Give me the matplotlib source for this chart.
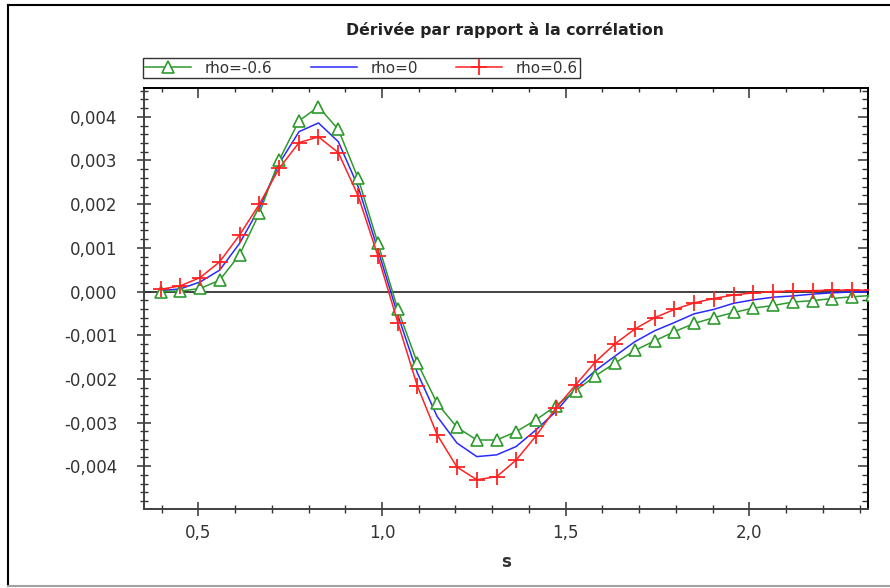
import numpy as np
import matplotlib
matplotlib.use('Agg')
import matplotlib.pyplot as plt
from matplotlib.lines import Line2D
from matplotlib.ticker import MultipleLocator, FuncFormatter

# s grid
s_values = [0.397, 0.451, 0.505, 0.558, 0.612, 0.666, 0.720, 0.774, 0.827, 0.881,
            0.935, 0.989, 1.043, 1.096, 1.150, 1.204, 1.258, 1.312, 1.365, 1.419,
            1.473, 1.527, 1.581, 1.634, 1.688, 1.742, 1.796, 1.850, 1.903, 1.957,
            2.011, 2.065, 2.119, 2.172, 2.226, 2.280, 2.334]

# derivative values, in thousandths
rho_neg = [0.00, 0.01, 0.07, 0.26, 0.84, 1.79, 3.01, 3.91, 4.23, 3.71,
           2.59, 1.10, -0.41, -1.63, -2.56, -3.11, -3.40, -3.40, -3.21, -2.94,
           -2.62, -2.27, -1.93, -1.64, -1.35, -1.13, -0.92, -0.73, -0.60, -0.48,
           -0.38, -0.32, -0.24, -0.21, -0.16, -0.12, -0.09]
rho_zero = [0.02, 0.06, 0.22, 0.49, 1.10, 1.91, 2.93, 3.66, 3.86, 3.43,
            2.40, 0.95, -0.54, -1.86, -2.86, -3.47, -3.78, -3.74, -3.55, -3.17,
            -2.75, -2.22, -1.81, -1.48, -1.15, -0.90, -0.71, -0.51, -0.41, -0.27,
            -0.19, -0.13, -0.10, -0.06, -0.03, -0.01, -0.01]
rho_pos = [0.05, 0.13, 0.32, 0.68, 1.29, 2.00, 2.82, 3.41, 3.54, 3.18,
           2.19, 0.81, -0.71, -2.16, -3.28, -4.02, -4.31, -4.24, -3.86, -3.31,
           -2.67, -2.14, -1.61, -1.20, -0.86, -0.60, -0.41, -0.26, -0.16, -0.08,
           -0.03, 0.00, 0.01, 0.02, 0.03, 0.03, 0.03]

x_ticks = [0.5, 1.0, 1.5, 2.0]
y_ticks = [-0.004, -0.003, -0.002, -0.001, 0.0, 0.001, 0.002, 0.003, 0.004]

GREEN = '#2e9a2e'
BLUE = '#2a2aff'
RED = '#ff2222'
TXT = '#333333'

plt.rcParams['font.family'] = 'DejaVu Sans'

fig = plt.figure(figsize=(8.9, 5.88), dpi=100)
ax = fig.add_axes([144 / 890, 1 - 509 / 588, (868 - 144) / 890, (509 - 88) / 588])

s = np.array(s_values)
ax.axhline(0, color='#404040', lw=1.4, zorder=1)
ax.plot(s, np.array(rho_neg) * 1e-3, color=GREEN, lw=1.1, marker='^', ms=8,
        mfc='white', mec=GREEN, mew=1.2, label='rho=-0.6', zorder=3)
ax.plot(s, np.array(rho_zero) * 1e-3, color=BLUE, lw=1.1, label='rho=0', zorder=2)
ax.plot(s, np.array(rho_pos) * 1e-3, color=RED, lw=1.1, marker='+', ms=12,
        mew=1.3, label='rho=0.6', zorder=4)

ax.set_xlim(0.352, 2.323)
ax.set_ylim(-0.00498, 0.00466)

ax.set_xticks(x_ticks)
ax.set_yticks(y_ticks)
ax.xaxis.set_minor_locator(MultipleLocator(0.1))
ax.yaxis.set_minor_locator(MultipleLocator(0.0002))
ax.xaxis.set_major_formatter(FuncFormatter(lambda v, p: f'{v:.1f}'.replace('.', ',')))
ax.yaxis.set_major_formatter(FuncFormatter(lambda v, p: f'{v:.3f}'.replace('.', ',')))

ax.tick_params(which='major', direction='inout', length=10, width=1.1, color='#333333',
               labelsize=12, labelcolor=TXT, top=False, right=False)
ax.tick_params(axis='y', which='major', pad=14)
ax.tick_params(axis='x', which='major', pad=6)
ax.tick_params(which='minor', direction='inout', length=6, width=1.0, color='#333333',
               top=False, right=False)

for side in ['left', 'bottom']:
    ax.spines[side].set_color('#404040')
    ax.spines[side].set_linewidth(1.4)
for side in ['top', 'right']:
    ax.spines[side].set_color('black')
    ax.spines[side].set_linewidth(1.4)

# inward ticks on the top and right edges
sec_x = ax.secondary_xaxis('top')
sec_x.set_xticks(x_ticks)
sec_x.xaxis.set_minor_locator(MultipleLocator(0.1))
sec_x.tick_params(which='major', direction='in', length=7, width=1.1, color='#333333', labeltop=False)
sec_x.tick_params(which='minor', direction='in', length=3, width=1.0, color='#333333')
sec_x.spines['top'].set_visible(False)

sec_y = ax.secondary_yaxis('right')
sec_y.set_yticks(y_ticks)
sec_y.yaxis.set_minor_locator(MultipleLocator(0.0002))
sec_y.tick_params(which='major', direction='in', length=7, width=1.1, color='#333333', labelright=False)
sec_y.tick_params(which='minor', direction='in', length=4, width=1.0, color='#333333')
sec_y.spines['right'].set_visible(False)

ax.set_xlabel('s', fontsize=12, fontweight='bold', color=TXT, labelpad=8)

fig.text(505 / 890, 1 - 30 / 588, 'Dérivée par rapport à la corrélation',
         ha='center', va='center', fontsize=11.3, fontweight='bold', color='#222222')

leg = fig.legend(loc='lower left', ncol=3, mode='expand',
                 bbox_to_anchor=(143 / 890, 1 - 78 / 588, (580 - 143) / 890, 20 / 588),
                 fontsize=11, frameon=True, fancybox=False, handlelength=3.0,
                 handletextpad=0.9, borderpad=0.15, borderaxespad=0)
leg.get_frame().set_edgecolor('black')
leg.get_frame().set_linewidth(1.0)
for t in leg.get_texts():
    t.set_color(TXT)

# outer frame of the picture
fig.add_artist(Line2D([8 / 890, 1.0], [1 - 5 / 588, 1 - 5 / 588], color='black', lw=1.5))
fig.add_artist(Line2D([8 / 890, 8 / 890], [1 - 5 / 588, 1 - 586 / 588], color='black', lw=1.5))
fig.add_artist(Line2D([8 / 890, 1.0], [1 - 586 / 588, 1 - 586 / 588], color='#a0a0a0', lw=1.5))

fig.savefig('out.png', dpi=100)
